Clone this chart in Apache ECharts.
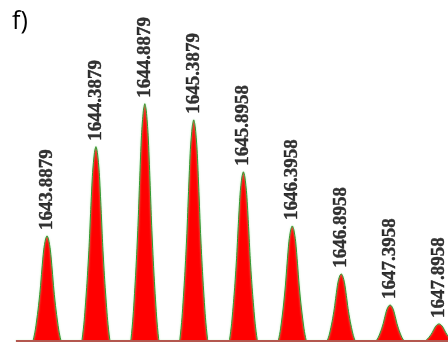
<!DOCTYPE html>
<html>
<head>
<meta charset="utf-8">
<script src="https://cdn.jsdelivr.net/npm/echarts@6/dist/echarts.min.js"></script>
<style>
  html, body { margin: 0; padding: 0; background: #fff; }
  #chart { width: 448px; height: 343px; }
</style>
</head>
<body>
<div id="chart"></div>
<script>
// Isotope peak centres (m/z) and their labels
const peakMz = [1643.8879, 1644.3879, 1644.8879, 1645.3879, 1645.8958, 1646.3958, 1646.8958, 1647.3958, 1647.8958];
const peakLabels = ['1643.8879', '1644.3879', '1644.8879', '1645.3879', '1645.8958', '1646.3958', '1646.8958', '1647.3958', '1647.8958'];
// Relative intensity of each peak (%)
const peakHeights = [44.3, 81.9, 100, 93.2, 71.3, 48.5, 28.3, 15.2, 7.2];
// Measured profile of a single peak: m/z offset from centre and fraction of apex height
const profileOffsets = [-0.15, -0.141, -0.12, -0.092, -0.07, -0.053, -0.034, -0.015, 0, 0.015, 0.034, 0.053, 0.07, 0.092, 0.12, 0.141, 0.15];
const profileShape   = [0, 0.01, 0.105, 0.295, 0.486, 0.676, 0.867, 0.97, 1, 0.97, 0.867, 0.676, 0.486, 0.295, 0.105, 0.01, 0];
// Extent of the recorded trace
const traceStart = 1643.57;
const traceEnd = 1648.1;

// Assemble the profile trace from the peaks
const trace = [[traceStart, 0]];
peakMz.forEach((mz, i) => {
  profileOffsets.forEach((off, k) => {
    trace.push([+(mz + off).toFixed(4), +(peakHeights[i] * profileShape[k]).toFixed(3)]);
  });
});
trace.push([traceEnd, 0]);
const apexes = peakMz.map((mz, i) => ({ value: [mz, peakHeights[i]], name: peakLabels[i] }));

const chart = echarts.init(document.getElementById('chart'), null, { renderer: 'canvas' });
chart.setOption({
  animation: false,
  backgroundColor: '#ffffff',
  grid: { left: 0, right: 0, top: 80, bottom: 2 },
  xAxis: {
    type: 'value', min: 1643.407, max: 1647.988, show: false
  },
  yAxis: {
    type: 'value', min: 0, max: 110, show: false
  },
  graphic: [{
    type: 'text', left: 12, top: 9,
    style: { text: 'f)', font: '25px "Open Sans", sans-serif', fill: '#000' }
  }],
  series: [{
    type: 'line',
    data: trace,
    showSymbol: false,
    smooth: 0.25,
    lineStyle: { color: '#2f9a2f', width: 1, shadowColor: '#a6e3a6', shadowBlur: 2 },
    areaStyle: { color: '#ff0000', opacity: 1 },
    z: 2
  }, {
    // baseline of the trace
    type: 'line',
    data: [[traceStart, 0], [traceEnd, 0]],
    showSymbol: false,
    lineStyle: { color: '#b4574f', width: 2 },
    z: 4
  }, {
    type: 'scatter',
    data: apexes,
    symbolSize: 0,
    label: {
      show: true, position: 'top', distance: 6, rotate: 90,
      align: 'left', verticalAlign: 'middle',
      formatter: p => p.name,
      fontFamily: '"Liberation Serif", "Times New Roman", serif',
      fontWeight: 700, fontSize: 19, color: '#000',
      textBorderColor: '#000', textBorderWidth: 0.4
    },
    z: 3
  }]
});
</script>
</body>
</html>
